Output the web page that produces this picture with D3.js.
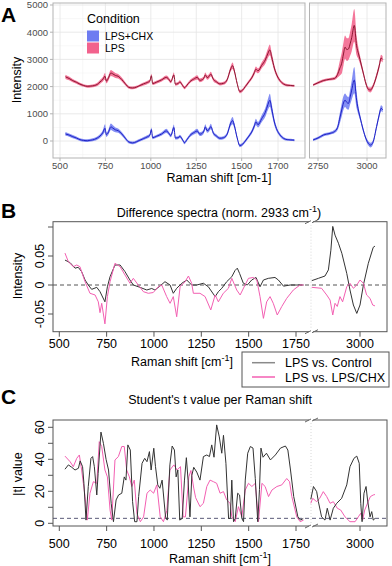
<!DOCTYPE html>
<meta charset="utf-8">
<style>
body { margin: 0; background: #fff; }
text { font-family: "Liberation Sans", Arial, sans-serif; }
</style>
<body>
<script src="https://d3js.org/d3.v7.min.js"></script>
<script>

// ---------- A: mean spectra (fingerprint + CH region) ----------
var waveFP = [530,550,570,590,610,630,650,670,690,705,
  720,735,748,755,765,780,790,805,820,840,
  860,880,900,920,940,960,980,995,1003,1010,
  1030,1060,1085,1095,1110,1127,1135,1150,1160,1175,
  1185,1200,1215,1240,1255,1270,1290,1300,1310,1320,
  1330,1345,1360,1380,1400,1420,1440,1450,1460,1475,
  1490,1505,1520,1540,1555,1570,1578,1590,1610,1630,
  1645,1655,1665,1680,1695,1710,1730,1750,1770,1790];
var chxFP = [260,220,160,110,50,20,10,30,60,110,
  180,300,470,230,300,520,480,410,380,260,
  100,-40,-70,-30,30,90,150,220,420,120,
  170,260,370,320,200,500,110,120,170,40,
  -60,60,200,320,370,250,330,520,380,420,
  530,280,190,100,120,250,660,750,560,120,
  -170,-120,0,180,330,560,700,600,820,1050,
  1350,1500,1200,700,400,230,100,50,40,30];
var chxFPsd = [70,60,60,55,50,50,50,50,55,60,
  70,90,150,80,90,120,110,90,80,70,
  60,50,50,50,50,55,60,60,80,55,
  55,60,80,70,60,110,55,55,60,55,
  55,55,60,70,80,70,70,100,80,80,
  100,70,60,55,55,70,110,130,100,60,
  60,55,55,60,70,100,120,100,130,160,
  200,240,190,120,80,60,50,45,40,40];
var lpsFP = [2360,2300,2220,2160,2090,2040,2010,2020,2040,2080,
  2170,2260,2380,2200,2290,2500,2470,2410,2380,2260,
  2100,1970,1950,1980,2040,2100,2150,2210,2400,2110,
  2160,2250,2340,2300,2180,2430,2090,2110,2170,2040,
  1960,2060,2180,2290,2340,2230,2290,2430,2330,2370,
  2460,2260,2180,2100,2120,2250,2660,2770,2570,2120,
  1820,1870,2000,2180,2320,2520,2640,2580,2780,2980,
  3230,3350,3100,2680,2400,2230,2100,2050,2040,2030];
var lpsFPsd = [80,70,60,55,50,50,50,50,55,60,
  70,80,120,80,90,110,100,90,80,70,
  60,50,50,50,50,55,60,60,70,55,
  55,60,70,70,60,90,55,55,60,55,
  55,55,60,70,80,70,70,90,80,80,
  90,70,60,55,55,70,100,120,90,60,
  60,55,55,60,70,90,100,90,110,140,
  170,200,160,110,80,60,50,45,40,40];

var waveCH = [2725,2750,2777,2811,2835,2850,2860,2871,2880,2888,2897,2905,2915,2922,
  2935,2947,2957,2964,2981,2995,3007,3018,3030,3049,3062,3072,3080];
var chxCH = [40,110,220,280,350,500,800,1140,1400,1500,1420,1380,1650,1870,
  2240,1500,1100,890,400,80,-90,-150,-60,530,950,1200,1150];
var chxCHsd = [40,45,50,50,60,100,180,240,250,250,240,230,280,350,
  480,300,150,110,80,70,80,90,80,90,100,110,100];
var lpsCH = [2060,2140,2220,2270,2300,2450,2650,2860,3200,3450,3360,3380,3600,3800,
  4250,3500,3200,3000,2500,2100,1900,1875,2000,2400,2750,3050,3000];
var lpsCHsd = [40,45,50,50,60,120,250,380,420,430,420,400,450,500,
  600,350,200,150,90,80,80,90,80,100,110,120,110];

var conditions = ["LPS+CHX", "LPS"];

// ---------- B: difference spectra ----------
var diffWaveCtrl = [530,557,583,600,618,636,653,671,698,715,741,754,768,794,821,847,873,891,926,962,
  988,1005,1032,1058,1085,1102,1120,1147,1173,1199,1226,1261,1287,1323,1340,1358,1384,1411,1428,1440,
  1452,1472,1493,1516,1539,1560,1578,1604,1639,1657,1684,1719,1754,1790,
  2745,2780,2815,2833,2846,2856,2868,2886,2904,2930,2947,2965,2983,3000,3018,3044,3070,3079];
var diffCtrl = [.043,.0385,.029,.0305,.023,.0086,0,-.0075,-.004,-.0115,-.029,-.003,.0143,.0345,.0345,.023,.0086,0,-.004,-.0086,
  -.006,-.0086,-.0017,.0057,0,-.0143,-.0057,.003,.0086,0,0,.003,-.003,-.02,-.0115,-.0057,.0057,.0143,.025,.029,
  .02,.003,0,.0086,.013,-.003,.0086,.0115,.013,.0086,-.002,0,0,0,
  .0075,.0115,.0155,.026,.06,.101,.086,.072,.0547,.02,-.0086,-.0345,-.049,-.0345,0,.0374,.065,.067];
var diffWaveChx = [530,548,574,592,609,636,662,689,706,715,724,741,754,768,794,821,847,873,891,917,
  944,970,996,1023,1041,1067,1085,1102,1120,1138,1164,1182,1199,1208,1243,1270,1300,1323,1340,1366,
  1393,1411,1437,1455,1481,1499,1525,1543,1560,1578,1595,1613,1630,1651,1675,1701,1736,1771,1790,
  2745,2797,2824,2842,2856,2868,2880,2894,2908,2930,2947,2965,2983,3000,3018,3035,3053,3067,3079];
var diffChx = [.055,.04,.0316,.0345,.0316,.0057,-.0143,-.0172,-.029,-.0477,-.0316,-.067,-.02,.0057,.0374,.0316,.0172,.003,.0115,0,
  -.0115,-.0143,-.013,-.003,0,-.02,-.0316,-.02,-.0547,-.003,.0057,.0155,.003,-.0143,-.0143,-.02,-.043,-.0172,-.029,-.0143,
  -.0057,.0115,-.0086,-.0172,0,.0115,.013,.0086,-.02,-.0575,-.029,-.02,-.0316,-.0517,-.037,-.023,-.0086,0,0,
  -.004,-.0057,-.0172,-.026,-.0517,-.0316,-.037,-.02,-.029,-.003,.003,-.0057,0,.0086,.003,-.0172,-.023,-.0345,-.036];

// ---------- C: |t| per Raman shift ----------
var tWaveCtrl = [530,548,566,583,601,610,623,630,641,653,667,676,685,698,705,720,733,747,760,774,
  786,800,813,830,843,852,862,875,887,898,910,919,937,951,963,976,985,999,1008,1020,
  1031,1043,1061,1070,1084,1096,1108,1117,1126,1136,1149,1161,1171,1180,1190,1200,1210,1226,1243,1261,
  1279,1293,1305,1317,1331,1345,1358,1367,1380,1394,1403,1411,1420,1429,1442,1452,1464,1473,1482,1495,
  1509,1523,1535,1548,1557,1565,1576,1594,1615,1641,1668,1694,1707,1721,1738,1760,1774,1788,
  2740,2754,2771,2780,2797,2815,2827,2842,2859,2877,2903,2930,2947,2968,2983,2996,3004,3011,3021,3032,
  3040,3053,3062,3070,3079];
var tCtrl = [33.8,36.5,35,33.3,34.4,39,35.4,25,2,23,40.6,41.7,35.4,17.7,31,57,50,40,33.3,12.5,
  1,14.6,17.7,18.8,29,27,49,45.8,13.5,1,1,16.7,37.5,40.6,38.5,44.8,33.3,46.9,35.4,24,
  21.9,27,4,2,36.5,48.3,45.8,29,33.3,2,3,27,41,27,4,30,35,32,27,41.7,
  42.7,41.7,49,41.3,61.5,54,43.8,55,37.5,3,3,27,1,3,18.8,17.7,3,1,27,43.8,
  48,47,28,1,21,47,41.3,43.8,39.6,42.7,47,48.3,45.8,33.3,16.7,4,2,3,
  15,23,19.8,13.5,4,2,9.4,2,9.4,12.5,15.6,24,35.4,40.6,42,37.5,12.5,1,18.8,23,
  14.6,4,7.3,2,3];
var tWaveChx = [530,557,574,592,606,618,636,648,662,680,698,711,724,741,754,768,777,794,812,830,
  843,856,870,883,896,910,928,945,963,980,998,1015,1033,1050,1068,1084,1105,1122,1140,1154,
  1166,1184,1195,1210,1220,1243,1261,1279,1296,1314,1331,1349,1367,1384,1402,1411,1429,1446,1464,1482,
  1499,1517,1535,1552,1570,1587,1605,1623,1649,1675,1701,1716,1728,1754,1772,1790,
  2740,2750,2771,2787,2806,2824,2842,2859,2880,2898,2921,2947,2974,2991,3004,3014,3025,3043,3055,3070,3079];
var tChx = [42,38.5,35.4,40.6,42.7,33.3,16.7,2,18.8,26,25,51,48,33.3,29,8.3,2,39.6,41.7,48,
  48,33.3,29,23,27,6,1,4,18.8,20.8,18.8,24,4,1,8,33.3,36.5,33.3,35.4,4,
  4,29,33,22,16,10.4,12.5,23,27,26,25,18.8,19.8,14.6,12.5,4,1,10.4,4,20.8,
  25,23,25,1,25,23,16.7,20.8,23,24,28,26,16.7,4,1,2,
  12.5,15.6,13.5,15.6,19.8,16.7,12.5,13.5,9.4,8.3,4,1,1,4,6.3,2,8.3,13.5,16.7,17.7,18];
var tCritical = 3.1;

var svg = d3.select("body").append("svg")
  .attr("width", 392)
  .attr("height", 566);

// ================= Panel A (ggplot style) =================
var aTop = 3, aBot = 158;
var yA = d3.scaleLinear().domain([0, 5000]).range([141, 5]);
var facets = [
  { x: d3.scaleLinear().domain([500, 1700]).range([60, 278]), x0: 53, x1: 305,
    ticks: [500, 750, 1000, 1250, 1500, 1700], minor: [625, 875, 1125, 1375, 1600],
    wave: waveFP, chx: chxFP, chxsd: chxFPsd, lps: lpsFP, lpssd: lpsFPsd },
  { x: d3.scaleLinear().domain([2750, 3000]).range([318, 367]), x0: 309.5, x1: 386,
    ticks: [2750, 3000], minor: [2875],
    wave: waveCH, chx: chxCH, chxsd: chxCHsd, lps: lpsCH, lpssd: lpsCHsd }
];
var yMajor = [0, 1000, 2000, 3000, 4000, 5000];
var yMinor = [-500, 500, 1500, 2500, 3500, 4500];

facets.forEach(function(f, k) {
  var g = svg.append("g");
  g.append("clipPath").attr("id", "clipA" + k)
    .append("rect").attr("x", f.x0).attr("y", aTop).attr("width", f.x1 - f.x0).attr("height", aBot - aTop);
  g.append("rect").attr("x", f.x0).attr("y", aTop).attr("width", f.x1 - f.x0).attr("height", aBot - aTop)
    .attr("fill", "#fff");
  var grid = g.append("g").attr("clip-path", "url(#clipA" + k + ")");
  yMinor.forEach(function(v) {
    grid.append("line").attr("x1", f.x0).attr("x2", f.x1).attr("y1", yA(v)).attr("y2", yA(v))
      .attr("stroke", "#f1f1f1").attr("stroke-width", 0.5);
  });
  f.minor.forEach(function(v) {
    grid.append("line").attr("x1", f.x(v)).attr("x2", f.x(v)).attr("y1", aTop).attr("y2", aBot)
      .attr("stroke", "#f1f1f1").attr("stroke-width", 0.5);
  });
  yMajor.forEach(function(v) {
    grid.append("line").attr("x1", f.x0).attr("x2", f.x1).attr("y1", yA(v)).attr("y2", yA(v))
      .attr("stroke", "#e4e4e4").attr("stroke-width", 0.8);
  });
  f.ticks.forEach(function(v) {
    grid.append("line").attr("x1", f.x(v)).attr("x2", f.x(v)).attr("y1", aTop).attr("y2", aBot)
      .attr("stroke", "#e4e4e4").attr("stroke-width", 0.8);
  });

  var series = [
    { m: f.chx, s: f.chxsd, fill: "#5b6af0", line: "#1f22c4" },
    { m: f.lps, s: f.lpssd, fill: "#f04a78", line: "#8a1630" }
  ];
  series.forEach(function(se) {
    var pts = f.wave.map(function(w, i) { return { w: w, m: se.m[i], s: se.s[i] }; });
    grid.append("path").datum(pts)
      .attr("d", d3.area().x(function(d) { return f.x(d.w); })
        .y0(function(d) { return yA(d.m - d.s); })
        .y1(function(d) { return yA(d.m + d.s); })
        .curve(d3.curveMonotoneX))
      .attr("fill", se.fill).attr("fill-opacity", 0.75);
    grid.append("path").datum(pts)
      .attr("d", d3.line().x(function(d) { return f.x(d.w); })
        .y(function(d) { return yA(d.m); }).curve(d3.curveMonotoneX))
      .attr("fill", "none").attr("stroke", se.line).attr("stroke-width", 1);
  });

  g.append("rect").attr("x", f.x0).attr("y", aTop).attr("width", f.x1 - f.x0).attr("height", aBot - aTop)
    .attr("fill", "none").attr("stroke", "#b3b3b3").attr("stroke-width", 1);

  f.ticks.forEach(function(v) {
    g.append("line").attr("x1", f.x(v)).attr("x2", f.x(v)).attr("y1", aBot).attr("y2", aBot + 3)
      .attr("stroke", "#b3b3b3");
    g.append("text").attr("x", f.x(v)).attr("y", 169).attr("text-anchor", "middle")
      .attr("font-size", 9.5).attr("fill", "#4d4d4d").text(v);
  });
});

yMajor.forEach(function(v) {
  svg.append("line").attr("x1", 50).attr("x2", 53).attr("y1", yA(v)).attr("y2", yA(v)).attr("stroke", "#b3b3b3");
  svg.append("text").attr("x", 48).attr("y", yA(v) + 3.4).attr("text-anchor", "end")
    .attr("font-size", 9.5).attr("fill", "#4d4d4d").text(v);
});
svg.append("text").attr("transform", "translate(21,80) rotate(-90)").attr("text-anchor", "middle")
  .attr("font-size", 12.5).text("Intensity");
svg.append("text").attr("x", 219).attr("y", 182).attr("text-anchor", "middle")
  .attr("font-size", 12.5).text("Raman shift [cm-1]");

// legend
svg.append("text").attr("x", 87).attr("y", 23).attr("font-size", 12.5).text("Condition");
var keyCol = ["#6e7cf1", "#f2628d"];
conditions.forEach(function(c, i) {
  svg.append("rect").attr("x", 87).attr("y", 30.5 + i * 12).attr("width", 12).attr("height", 11)
    .attr("fill", keyCol[i]);
  svg.append("text").attr("x", 105).attr("y", 40 + i * 12).attr("font-size", 10.5).text(c);
});
svg.append("text").attr("x", 1).attr("y", 22).attr("font-size", 21).attr("font-weight", "bold").text("A");

// ================= Panels B and C (base R style) =================
var bx0 = 53, bx1 = 387, breakX = 310;
var xL = d3.scaleLinear().domain([500, 1750]).range([59.3, 296]);
var xR = d3.scaleLinear().domain([2750, 3000]).range([312.7, 360]);
function px(v) { return v < 2000 ? xL(v) : xR(v); }
var xTicksL = [500, 750, 1000, 1250, 1500, 1750];
var xTicksR = [3000];

function basePanel(top, bot, y, yTicks, yLabels, tickLabelY, ref, refColor, lines) {
  var g = svg.append("g");
  g.append("line").attr("x1", breakX + 1).attr("x2", breakX + 1).attr("y1", top).attr("y2", bot)
    .attr("stroke", "#d8d8d8").attr("stroke-dasharray", "1,2");
  g.append("line").attr("x1", bx0).attr("x2", bx1).attr("y1", y(ref)).attr("y2", y(ref))
    .attr("stroke", refColor).attr("stroke-dasharray", "4,3").attr("stroke-width", 1);
  lines.forEach(function(s) {
    var pts = s.w.map(function(w, i) { return [w, s.v[i]]; });
    [pts.filter(function(p) { return p[0] < 2000; }), pts.filter(function(p) { return p[0] > 2000; })]
      .forEach(function(seg) {
        g.append("path").datum(seg)
          .attr("d", d3.line().x(function(d) { return px(d[0]); }).y(function(d) { return y(d[1]); }))
          .attr("fill", "none").attr("stroke", s.color).attr("stroke-width", 1);
      });
  });
  g.append("rect").attr("x", bx0).attr("y", top).attr("width", bx1 - bx0).attr("height", bot - top)
    .attr("fill", "none").attr("stroke", "#555").attr("stroke-width", 1);
  // axis break marks
  [top, bot].forEach(function(yy) {
    g.append("rect").attr("x", breakX - 1).attr("y", yy - 3).attr("width", 4).attr("height", 6).attr("fill", "#fff");
    g.append("line").attr("x1", breakX - 5).attr("y1", yy + 2).attr("x2", breakX + 1).attr("y2", yy - 1)
      .attr("stroke", "#666");
    g.append("line").attr("x1", breakX + 2).attr("y1", yy + 1).attr("x2", breakX + 8).attr("y2", yy - 2)
      .attr("stroke", "#666");
  });
  xTicksL.concat(xTicksR).forEach(function(v) {
    g.append("line").attr("x1", px(v)).attr("x2", px(v)).attr("y1", bot).attr("y2", bot + 5).attr("stroke", "#555");
    g.append("text").attr("x", px(v)).attr("y", tickLabelY).attr("text-anchor", "middle")
      .attr("font-size", 12.5).text(v);
  });
  yTicks.forEach(function(v, i) {
    g.append("line").attr("x1", bx0 - 5).attr("x2", bx0).attr("y1", y(v)).attr("y2", y(v)).attr("stroke", "#555");
    if (yLabels[i]) {
      g.append("text").attr("transform", "translate(44," + y(v) + ") rotate(-90)")
        .attr("text-anchor", "middle").attr("font-size", 12.5).text(yLabels[i]);
    }
  });
  return g;
}

function ramanTitle(x, y) {
  var t = svg.append("text").attr("x", x).attr("y", y).attr("text-anchor", "middle").attr("font-size", 12.5);
  t.append("tspan").text("Raman shift [cm");
  t.append("tspan").attr("dy", -5).attr("font-size", 9).text("-1");
  t.append("tspan").attr("dy", 5).text("]");
}

// ---- B ----
var yB = d3.scaleLinear().domain([-0.05, 0.05]).range([314, 256]);
basePanel(221.7, 331.7, yB, [-0.05, 0, 0.05, 0.1], ["-0.05", "0", "0.05", ""], 348, 0, "#555", [
  { w: diffWaveCtrl, v: diffCtrl, color: "#333" },
  { w: diffWaveChx, v: diffChx, color: "#f35fb2" }
]);
svg.append("text").attr("x", 1).attr("y", 218).attr("font-size", 21).attr("font-weight", "bold").text("B");
var tB = svg.append("text").attr("x", 219).attr("y", 217).attr("text-anchor", "middle").attr("font-size", 12.5);
tB.append("tspan").text("Difference spectra (norm. 2933 cm");
tB.append("tspan").attr("dy", -5).attr("font-size", 9).text("-1");
tB.append("tspan").attr("dy", 5).text(")");
svg.append("text").attr("transform", "translate(22,276) rotate(-90)").attr("text-anchor", "middle")
  .attr("font-size", 12.5).text("Intensity");
ramanTitle(182, 366);

// legend B
var legB = svg.append("g");
legB.append("rect").attr("x", 242).attr("y", 352).attr("width", 147).attr("height", 35)
  .attr("fill", "#fff").attr("stroke", "#555");
[["LPS vs. Control", "#8a8a8a"], ["LPS vs. LPS/CHX", "#f35fb2"]].forEach(function(e, i) {
  var yy = 362.7 + i * 14.3;
  legB.append("line").attr("x1", 252).attr("x2", 275).attr("y1", yy).attr("y2", yy)
    .attr("stroke", e[1]).attr("stroke-width", 1.5);
  legB.append("text").attr("x", 285).attr("y", yy + 4.5).attr("font-size", 12.5).text(e[0]);
});

// ---- C ----
var yC = d3.scaleLinear().domain([0, 60]).range([523.3, 427.3]);
basePanel(420, 526, yC, [0, 10, 20, 30, 40, 50, 60], ["0", "", "20", "", "40", "", "60"], 548, tCritical, "#5a5a78", [
  { w: tWaveChx, v: tChx, color: "#f35fb2" },
  { w: tWaveCtrl, v: tCtrl, color: "#333" }
]);
svg.append("text").attr("x", 1).attr("y", 404).attr("font-size", 21).attr("font-weight", "bold").text("C");
svg.append("text").attr("x", 220).attr("y", 404).attr("text-anchor", "middle").attr("font-size", 12.5)
  .text("Student's t value per Raman shift");
svg.append("text").attr("transform", "translate(22,474) rotate(-90)").attr("text-anchor", "middle")
  .attr("font-size", 12.5).text("|t| value");
ramanTitle(220, 563);

</script>
